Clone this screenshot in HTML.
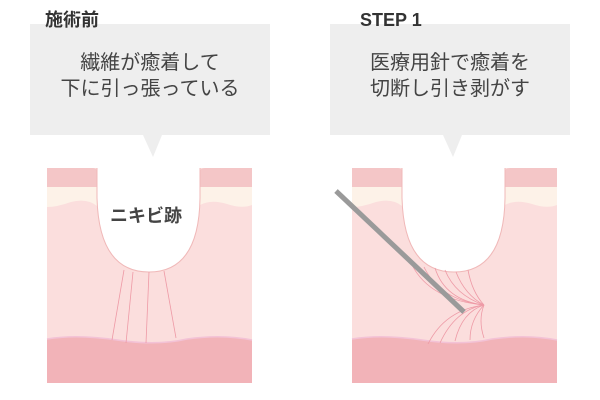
<!DOCTYPE html>
<html><head><meta charset="utf-8"><style>
body{margin:0;width:600px;height:400px;background:#fff;overflow:hidden;position:relative;font-family:"Liberation Sans","Noto Sans CJK JP",sans-serif;}
.t{position:absolute;color:#333;font-weight:bold;font-size:18px;line-height:20px;}
.b{position:absolute;color:#444;font-size:20px;line-height:26px;text-align:center;font-weight:normal;}
</style></head><body>
<svg width="600" height="400" style="position:absolute;left:0;top:0">
<defs>
<g id="panel">
<rect x="0" y="0" width="205" height="215" fill="#fbdedd"/>
<path d="M0 0 H46 Q50 0 50 4 V38 Q40 30 24 34 Q10 39 0 39 Z" fill="#fdf2e8"/>
<path d="M0 0 H46 Q50 0 50 4 V19 H0 Z" fill="#f4c6c7"/>
<path d="M205 0 H158 Q153 0 153 4 V37 Q164 31 180 36 Q195 41 205 37 Z" fill="#fdf2e8"/>
<path d="M205 0 H158 Q153 0 153 4 V19 H205 Z" fill="#f4c6c7"/>
<path d="M50 0 V30 Q52 104 102 104 Q152 104 153 30 V0 Z" fill="#fff"/>
<path d="M50 0 V30 Q52 104 102 104 Q152 104 153 30 V0" fill="none" stroke="#f0b8b8" stroke-width="1"/>
<path d="M0 171 Q30 166 70 172 Q110 178 140 171 Q175 166 205 172 V215 H0 Z" fill="#f2b3b8"/>
<path d="M0 171 Q30 166 70 172 Q110 178 140 171 Q175 166 205 172" fill="none" stroke="#f3c2d6" stroke-width="1.5"/>
</g>
</defs>
<rect x="30" y="24" width="240" height="111" fill="#eeeeee"/>
<polygon points="143,135 162,135 153,157" fill="#eeeeee"/>
<rect x="330" y="24" width="240" height="111" fill="#eeeeee"/>
<polygon points="443,135 462,135 453,157" fill="#eeeeee"/>
<use href="#panel" x="47" y="168"/>
<use href="#panel" x="352" y="168"/>
<g stroke="#ee9aa6" stroke-width="0.8" fill="none">
<line x1="124" y1="270" x2="112" y2="340"/>
<line x1="133" y1="272" x2="126" y2="343"/>
<line x1="149" y1="272" x2="146" y2="343"/>
<line x1="164" y1="271" x2="176" y2="338"/>
<path d="M435 268 Q445 300 484 305"/><path d="M445 270 Q455 295 484 305"/><path d="M456 272 Q465 295 484 305"/><path d="M468 270 Q472 292 484 305"/>
<path d="M412 265 Q430 300 484 305"/><path d="M424 267 Q440 300 484 305"/>
<path d="M484 305 Q455 310 440 343"/><path d="M484 305 Q462 312 455 341"/><path d="M484 305 Q470 320 470 340"/><path d="M484 305 Q478 320 484 338"/><path d="M484 305 Q445 310 428 344"/>
</g>
<line x1="336" y1="191" x2="464" y2="312" stroke="#9a9a9a" stroke-width="5"/>
</svg>
<div class="t" style="left:45px;top:10px">施術前</div>
<div class="t" style="left:360px;top:10px">STEP 1</div>
<div class="b" style="left:30px;width:240px;top:50px">繊維が癒着して<br>下に引っ張っている</div>
<div class="b" style="left:330px;width:240px;top:50px">医療用針で癒着を<br>切断し引き剥がす</div>
<div style="position:absolute;left:110px;top:202px;font-size:18px;font-weight:bold;color:#444">ニキビ跡</div>
</body></html>
